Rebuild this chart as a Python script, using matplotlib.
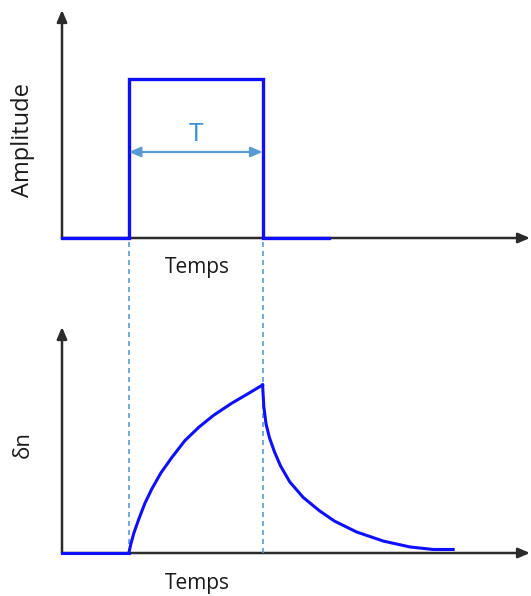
import matplotlib
matplotlib.use("Agg")
import matplotlib.pyplot as plt

plt.rcParams['font.family'] = ['Open Sans', 'DejaVu Sans']

# top panel: rectangular pulse of width T
pulse_t = [0, 1, 1, 3, 3, 4]
pulse_amp = [0, 0, 1, 1, 0, 0]

# bottom panel: delta n response
base_t = [0, 1.0]
base_dn = [0, 0]
rise_t = [1.0, 1.030, 1.075, 1.149, 1.239, 1.343, 1.478, 1.642, 1.836, 2.045, 2.269, 2.537, 2.761, 3.0]
rise_dn = [0, 0.054, 0.119, 0.202, 0.295, 0.381, 0.476, 0.568, 0.668, 0.748, 0.820, 0.891, 0.943, 1.0]
decay_t = [3.0, 3.019, 3.052, 3.104, 3.179, 3.269, 3.407, 3.607, 3.855, 4.075, 4.407, 4.806, 5.204, 5.552, 5.851]
decay_dn = [1.0, 0.871, 0.768, 0.685, 0.601, 0.518, 0.423, 0.331, 0.250, 0.190, 0.125, 0.071, 0.036, 0.021, 0.021]

t_start, t_end = 1.0, 3.0
x_max = 7.0

W, H = 531, 596
BLUE = '#0f0fff'
LIGHT = '#5b9bd5'
AXIS = '#2b2b2b'
TEXT = '#1a1a1a'

fig = plt.figure(figsize=(W / 100, H / 100), dpi=100)

ax1 = fig.add_axes([62 / W, (H - 238) / H, (530 - 62) / W, (238 - 10) / H])
ax2 = fig.add_axes([62 / W, (H - 553) / H, (530 - 62) / W, (553 - 327) / H])
ax1.set_ylim(0, 1.434)
ax2.set_ylim(0, 1.345)

for ax in (ax1, ax2):
    ax.set_xlim(0, x_max)
    ax.axis('off')
    y_top = ax.get_ylim()[1]
    arrow = dict(arrowstyle='-|>,head_length=0.7,head_width=0.3', color=AXIS, lw=1.8,
                 shrinkA=0, shrinkB=0)
    ax.annotate('', xy=(x_max, 0), xytext=(0, 0), arrowprops=arrow, annotation_clip=False, zorder=1)
    ax.annotate('', xy=(0, y_top), xytext=(0, 0), arrowprops=arrow, annotation_clip=False, zorder=1)

ax1.plot(pulse_t, pulse_amp, color=BLUE, lw=2.4, solid_joinstyle='miter', zorder=3, clip_on=False)
ax1.annotate('', xy=(t_end, 0.541), xytext=(t_start, 0.541),
             arrowprops=dict(arrowstyle='<|-|>,head_length=0.7,head_width=0.3', color=LIGHT, lw=1.6,
                             shrinkA=0, shrinkB=0))
ax1.text((t_start + t_end) / 2, 0.57, 'T', color='#3a8ed0', fontsize=19, ha='center', va='bottom')

ax2.plot(base_t, base_dn, color=BLUE, lw=2.2, zorder=3, clip_on=False)
ax2.plot(rise_t, rise_dn, color=BLUE, lw=2.2, zorder=3, solid_joinstyle='round', clip_on=False)
ax2.plot(decay_t, decay_dn, color=BLUE, lw=2.2, zorder=3, solid_joinstyle='round', clip_on=False)

for t in (t_start, t_end):
    ax2.plot([t, t], [0, 1.863], color=LIGHT, lw=1.2, dashes=(3, 2.4), clip_on=False, zorder=2)

fig.text(23 / W, 1 - 140 / H, 'Amplitude', rotation=90, ha='center', va='center', fontsize=17, color=TEXT)
fig.text(23 / W, 1 - 445 / H, 'δn', rotation=90, ha='center', va='center', fontsize=16, color=TEXT)
fig.text(197 / W, 1 - 267 / H, 'Temps', ha='center', va='center', fontsize=15, color=TEXT)
fig.text(197 / W, 1 - 583 / H, 'Temps', ha='center', va='center', fontsize=15, color=TEXT)

fig.savefig('out.png', dpi=100)
